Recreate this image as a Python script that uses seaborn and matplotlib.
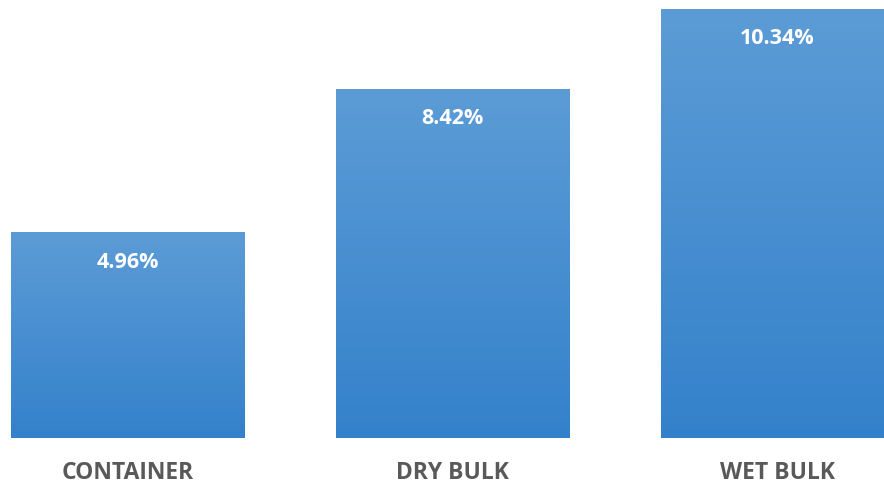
import matplotlib
matplotlib.use("Agg")
import matplotlib.pyplot as plt
import seaborn as sns
import numpy as np
import pandas as pd
from matplotlib.colors import LinearSegmentedColormap

categories = ["CONTAINER", "DRY BULK", "WET BULK"]
values = [4.96, 8.42, 10.34]
value_labels = ["4.96%", "8.42%", "10.34%"]

sns.set_theme(style="white")
plt.rcParams['font.family'] = ['Open Sans', 'DejaVu Sans']

df = pd.DataFrame({"category": categories, "value": values})

fig = plt.figure(figsize=(8.84, 4.85), dpi=100)
ax = fig.add_axes([0, 46 / 485, 1, 439 / 485])
sns.barplot(data=df, x="category", y="value", color="#4a90d4", width=0.717,
            saturation=1, ax=ax)

cmap = LinearSegmentedColormap.from_list("g", ["#3481cb", "#5c9cd6"])
grad = np.linspace(0, 1, 256).reshape(-1, 1)
for patch in ax.patches:
    x0, y0 = patch.get_x(), patch.get_y()
    w, h = patch.get_width(), patch.get_height()
    im = ax.imshow(grad, cmap=cmap, aspect="auto", origin="lower",
                   extent=[x0, x0 + w, y0, y0 + h], zorder=patch.get_zorder() + 0.1)
    im.set_clip_path(patch)

ax.set_xlim(-0.392, 2.328)
ax.set_ylim(0, 10.578)
for s in ax.spines.values():
    s.set_visible(False)
ax.set_yticks([])
ax.set_xlabel("")
ax.set_ylabel("")
ax.tick_params(axis="x", length=0, pad=16, labelsize=16.5, labelcolor="#595959")
for lbl in ax.get_xticklabels():
    lbl.set_fontweight("bold")

for patch, lab in zip(ax.patches, value_labels):
    cx = patch.get_x() + patch.get_width() / 2
    top = patch.get_height()
    ax.annotate(lab, (cx, top), xytext=(0, -29), textcoords="offset pixels",
                ha="center", va="center", color="white", fontsize=15.5,
                fontweight="bold", zorder=5)

fig.savefig("out.png", dpi=100)
